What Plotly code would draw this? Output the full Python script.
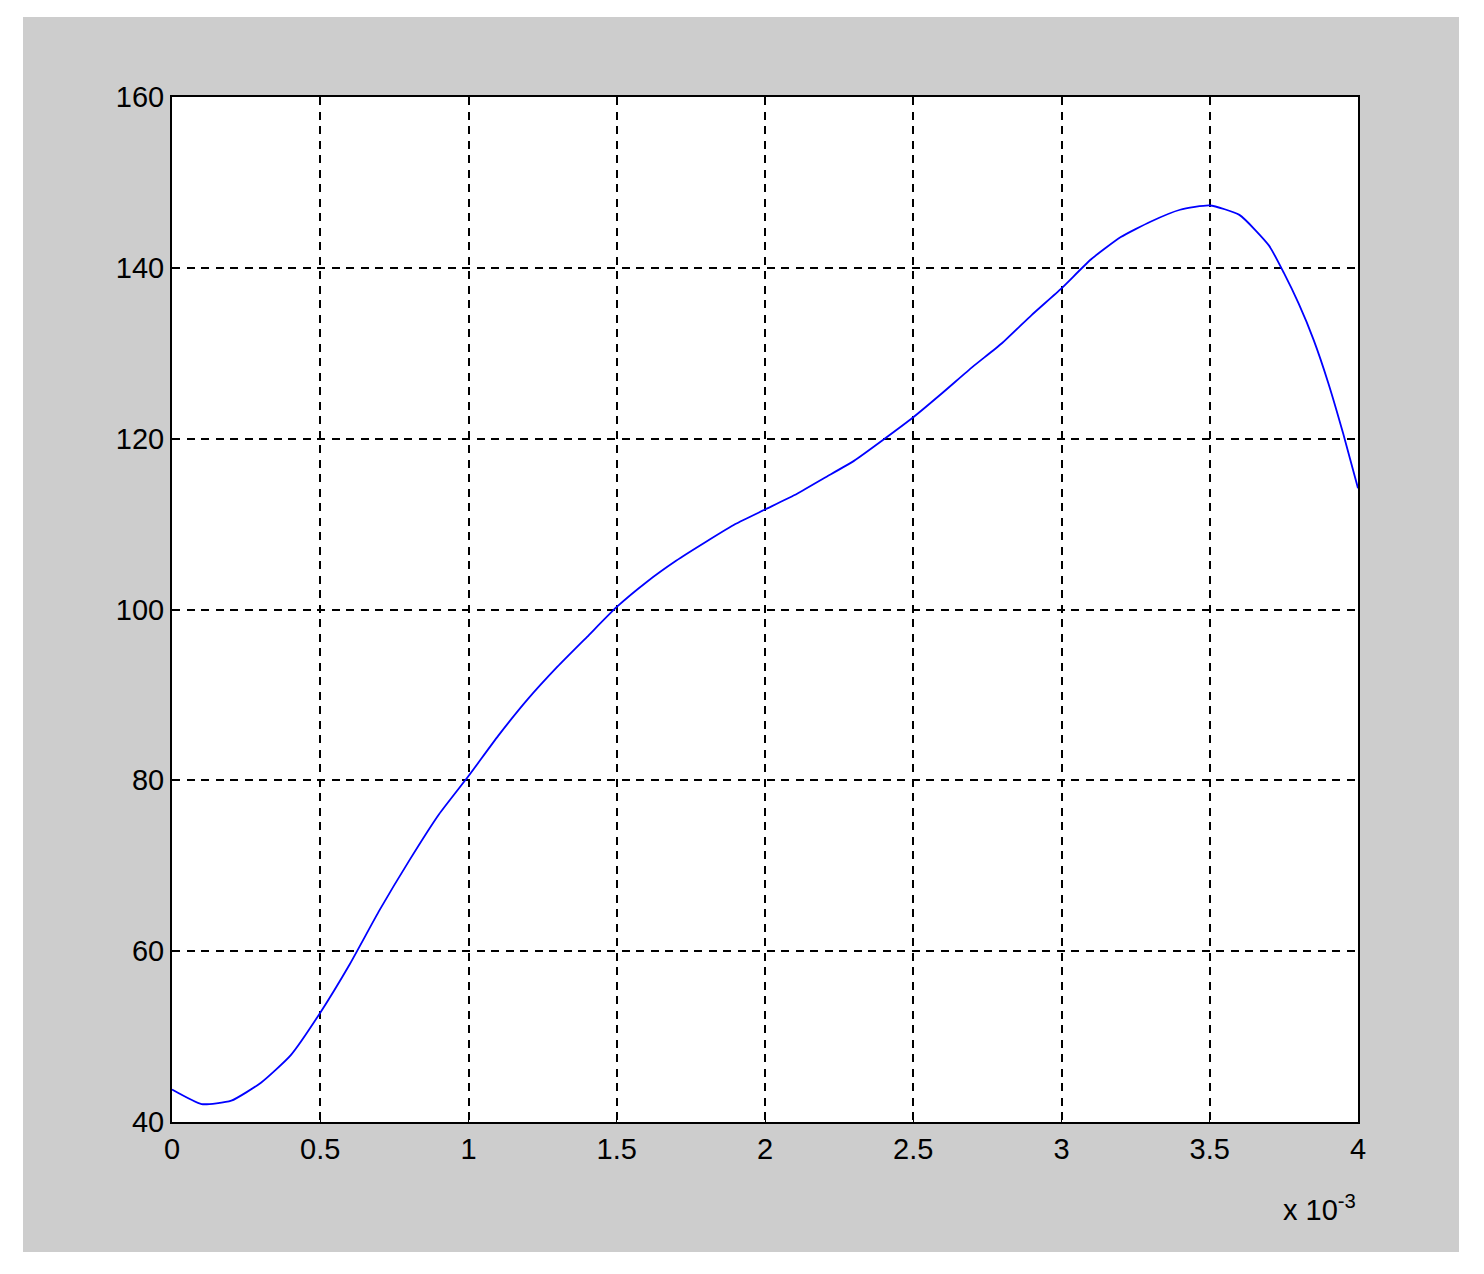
import plotly.graph_objects as go

# x in units of 1e-3 (shown as "x 10^-3" on the axis)
x_vals = [0.0, 0.1, 0.2, 0.3, 0.4, 0.5, 0.6, 0.7, 0.8, 0.9, 1.0,
          1.1, 1.2, 1.3, 1.4, 1.5, 1.6, 1.7, 1.8, 1.9, 2.0,
          2.1, 2.2, 2.3, 2.4, 2.5, 2.6, 2.7, 2.8, 2.9, 3.0,
          3.1, 3.2, 3.3, 3.4, 3.5, 3.6, 3.7, 3.75, 3.8, 3.85, 3.9, 3.95, 4.0]
y_vals = [43.8, 42.1, 42.5, 44.6, 47.8, 52.8, 58.5, 64.8, 70.6, 76.0, 80.5,
          85.2, 89.5, 93.3, 96.8, 100.3, 103.2, 105.7, 107.9, 110.0, 111.7,
          113.4, 115.4, 117.4, 119.9, 122.5, 125.4, 128.4, 131.2, 134.5, 137.6,
          141.0, 143.6, 145.4, 146.8, 147.3, 146.2, 142.6, 139.4, 135.8, 131.6, 126.5, 120.6, 114.2]

x_ticks = [0, 0.5, 1, 1.5, 2, 2.5, 3, 3.5, 4]
y_ticks = [40, 60, 80, 100, 120, 140, 160]

# page has an 8px body margin, so everything is shifted by that
OFF = 8
W, H = 1484 - 2 * OFF, 1274 - 2 * OFF
L, R, T, B = 172 - OFF, 1358 - OFF, 97 - OFF, 1122 - OFF

fig = go.Figure(go.Scatter(x=x_vals, y=y_vals, mode="lines",
                           line=dict(color="#0000ff", width=1.8, shape="spline", smoothing=0.5)))

axis_style = dict(
    showgrid=True, gridcolor="black", gridwidth=2, griddash="8px,6.5px",
    showline=True, linecolor="black", linewidth=2, mirror=True,
    zeroline=False, ticks="inside", ticklen=8, tickcolor="black",
    tickfont=dict(family="Liberation Sans, Arial, sans-serif", size=29, color="black"),
)

fig.update_xaxes(range=[0, 4], tickvals=x_ticks, **axis_style)
fig.update_yaxes(range=[40, 160], tickvals=y_ticks, **axis_style)

pw, ph = R - L, B - T
# grey figure window, then white axes face on top of it
fig.add_shape(type="rect", xref="paper", yref="paper", layer="below",
              x0=(23 - OFF - L) / pw, x1=(1459 - OFF - L) / pw,
              y0=(B - (1252 - OFF)) / ph, y1=(B - (17 - OFF)) / ph,
              fillcolor="#cdcdcd", line=dict(width=0))
fig.add_shape(type="rect", xref="paper", yref="paper", layer="below",
              x0=0, x1=1, y0=0, y1=1,
              fillcolor="white", line=dict(width=0))

fig.add_annotation(text="x 10<sup>-3</sup>", xref="paper", yref="paper",
                   x=1.0, y=(B - (1228 - OFF)) / ph, xanchor="right", yanchor="bottom",
                   showarrow=False,
                   font=dict(family="Liberation Sans, Arial, sans-serif", size=29, color="black"))

fig.update_layout(
    width=W, height=H,
    margin=dict(l=L, r=W - R, t=T, b=H - B),
    paper_bgcolor="white", plot_bgcolor="white",
    showlegend=False,
)

fig.write_html("out.html")
